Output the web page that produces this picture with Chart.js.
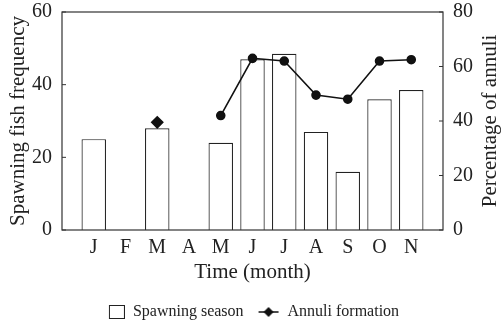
<!DOCTYPE html>
<html>
<head>
<meta charset="utf-8">
<script src="https://cdn.jsdelivr.net/npm/chart.js@4/dist/chart.umd.min.js"></script>
<style>
  html, body { margin: 0; padding: 0; background: #fff; }
  #wrap { width: 502px; height: 324px; }
</style>
</head>
<body>
<div id="wrap"><canvas id="chart"></canvas></div>
<script>
// months, padded with an empty slot at each end so the axis runs past J and N
const months = ['', 'J', 'F', 'M', 'A', 'M', 'J', 'J', 'A', 'S', 'O', 'N', ''];
const spawningFreq = [null, 25, 0, 28, 0, 24, 47, 48.5, 27, 16, 36, 38.5, null];
const annuliPct = [null, null, null, 39.5, null, 42, 63, 62, 49.5, 48, 62, 62.5, null];
const leftTicks = [0, 20, 40, 60];
const rightTicks = [0, 20, 40, 60, 80];

const serif = "'Liberation Serif', 'DejaVu Serif', serif";
const ink = '#222';

const makeIcon = (draw) => {
    const c = document.createElement('canvas');
    c.width = 22; c.height = 14;
    draw(c.getContext('2d'));
    return c;
}

const barIcon = makeIcon((g) => {
    g.fillStyle = '#fff';
    g.strokeStyle = ink;
    g.lineWidth = 1;
    g.fillRect(6.5, 0.5, 15, 13);
    g.strokeRect(6.5, 0.5, 15, 13);
});

const lineIcon = makeIcon((g) => {
    g.strokeStyle = '#111';
    g.lineWidth = 1.5;
    g.beginPath();
    g.moveTo(1, 7); g.lineTo(21, 7);
    g.stroke();
    g.fillStyle = '#111';
    g.beginPath();
    g.moveTo(11, 2); g.lineTo(16, 7); g.lineTo(11, 12); g.lineTo(6, 7);
    g.closePath();
    g.fill();
});

const frameBox = {
    id: 'frameBox',
    afterDatasetsDraw(chart) {
        const { ctx, chartArea: a } = chart;
        ctx.save();
        ctx.strokeStyle = '#333';
        ctx.lineWidth = 1.2;
        ctx.strokeRect(a.left, a.top, a.right - a.left, a.bottom - a.top);
        // short inward tick marks on both value axes
        ctx.lineWidth = 1;
        const yl = chart.scales.y, yr = chart.scales.y2;
        for (const v of leftTicks) {
            const p = yl.getPixelForValue(v);
            ctx.beginPath(); ctx.moveTo(a.left, p); ctx.lineTo(a.left + 4, p); ctx.stroke();
        }
        for (const v of rightTicks) {
            const p = yr.getPixelForValue(v);
            ctx.beginPath(); ctx.moveTo(a.right, p); ctx.lineTo(a.right - 4, p); ctx.stroke();
        }
        // right axis title, reading bottom to top like the left one
        ctx.translate(yr.right - 12, (a.top + a.bottom) / 2);
        ctx.rotate(-Math.PI / 2);
        ctx.fillStyle = ink;
        ctx.font = '21px ' + serif;
        ctx.textAlign = 'center';
        ctx.textBaseline = 'middle';
        ctx.fillText('Percentage of annuli', 0, 0);
        ctx.restore();
    }
};

const noPad = (s) => { s.paddingTop = 0; s.paddingBottom = 0; };

const createChart = () => {
    const ctx = document.getElementById('chart');
    new Chart(ctx, {
        data: {
            labels: months,
            datasets: [{
                type: 'line',
                label: 'Annuli formation',
                data: annuliPct,
                yAxisID: 'y2',
                borderColor: '#111',
                backgroundColor: '#111',
                borderWidth: 1.6,
                pointStyle: ['rectRot', 'rectRot', 'rectRot', 'rectRot', 'rectRot', 'circle', 'circle', 'circle', 'circle', 'circle', 'circle', 'circle', 'circle'],
                pointRadius: [4, 4, 4, 5.5, 4, 4, 4, 4, 4, 4, 4, 4, 4],
                spanGaps: false,
                order: 0
            }, {
                type: 'bar',
                label: 'Spawning season',
                data: spawningFreq,
                yAxisID: 'y',
                backgroundColor: '#fff',
                borderColor: ink,
                borderWidth: 1.2,
                categoryPercentage: 1,
                barPercentage: 0.77,
                order: 1
            }]
        },
        options: {
            responsive: true,
            maintainAspectRatio: false,
            animation: false,
            layout: { padding: { top: 12, left: 0, right: 0, bottom: -6 } },
            plugins: {
                tooltip: { enabled: false },
                legend: {
                    position: 'bottom',
                    labels: {
                        usePointStyle: true,
                        pointStyleWidth: 22,
                        font: { family: serif, size: 16 },
                        color: ink,
                        padding: 14,
                        generateLabels: () => [
                            { text: 'Spawning season', pointStyle: barIcon, fontColor: ink, lineWidth: 0, strokeStyle: 'transparent', fillStyle: 'transparent' },
                            { text: 'Annuli formation', pointStyle: lineIcon, fontColor: ink, lineWidth: 0, strokeStyle: 'transparent', fillStyle: 'transparent' }
                        ]
                    }
                }
            },
            scales: {
                x: {
                    offset: false,
                    afterFit: (s) => { s.height = 60; },
                    grid: { display: false, offset: false },
                    border: { display: false },
                    ticks: { color: ink, font: { family: serif, size: 20 }, padding: -2, maxRotation: 0, autoSkip: false },
                    title: { display: true, text: 'Time (month)', color: ink, font: { family: serif, size: 21 }, padding: { top: 0, bottom: 5 } }
                },
                y: {
                    position: 'left',
                    min: 0, max: 60,
                    afterFit: (s) => { s.width = 62; noPad(s); },
                    afterBuildTicks: (s) => { s.ticks = leftTicks.map(v => ({ value: v })); },
                    grid: { display: false },
                    border: { display: false },
                    ticks: { color: ink, font: { family: serif, size: 20 }, padding: 2 },
                    title: { display: true, text: 'Spawning fish frequency', color: ink, font: { family: serif, size: 21 }, padding: { top: 6, bottom: 0 } }
                },
                y2: {
                    position: 'right',
                    min: 0, max: 80,
                    afterFit: (s) => { s.width = 59; noPad(s); },
                    afterBuildTicks: (s) => { s.ticks = rightTicks.map(v => ({ value: v })); },
                    grid: { display: false },
                    border: { display: false },
                    ticks: { color: ink, font: { family: serif, size: 20 }, padding: 2 }
                }
            }
        },
        plugins: [frameBox]
    });
}

createChart();
</script>
</body>
</html>
